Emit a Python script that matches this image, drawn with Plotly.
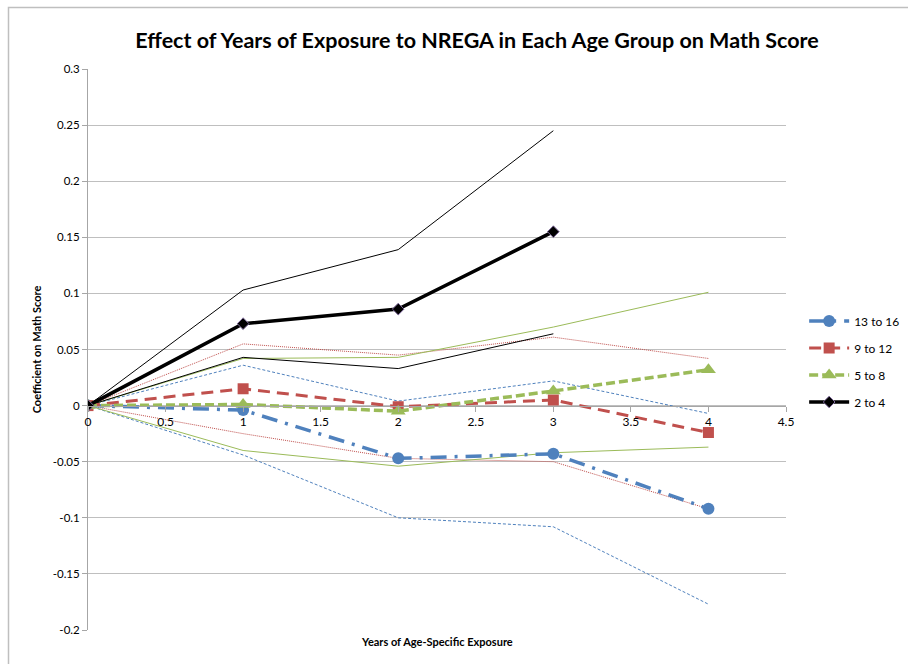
import plotly.graph_objects as go

years = [0, 1, 2, 3, 4]
years_24 = [0, 1, 2, 3]

g13_16 = [0, -0.004, -0.047, -0.043, -0.092]
g13_16_hi = [0, 0.036, 0.004, 0.022, -0.007]
g13_16_lo = [0, -0.044, -0.100, -0.108, -0.177]

g9_12 = [0, 0.015, -0.001, 0.005, -0.024]
g9_12_hi = [0, 0.055, 0.045, 0.061, 0.042]
g9_12_lo = [0, -0.025, -0.047, -0.050, -0.092]

g5_8 = [0, 0.001, -0.005, 0.013, 0.032]
g5_8_hi = [0, 0.042, 0.043, 0.070, 0.101]
g5_8_lo = [0, -0.040, -0.054, -0.042, -0.037]

g2_4 = [0, 0.073, 0.086, 0.155]
g2_4_hi = [0, 0.103, 0.139, 0.245]
g2_4_lo = [0, 0.043, 0.033, 0.064]

y_ticks = [0.3, 0.25, 0.2, 0.15, 0.1, 0.05, 0, -0.05, -0.1, -0.15, -0.2]
y_tick_text = ["0.3", "0.25", "0.2", "0.15", "0.1", "0.05", "0", "-0.05", "-0.1", "-0.15", "-0.2"]
x_ticks = [0, 0.5, 1, 1.5, 2, 2.5, 3, 3.5, 4, 4.5]
x_tick_text = ["0", "0.5", "1", "1.5", "2", "2.5", "3", "3.5", "4", "4.5"]

BLUE = "#4F81BD"
RED = "#C0504D"
GREEN = "#9BBB59"
BLACK = "#000000"

fig = go.Figure()

def ci(x, y, color, dash):
    fig.add_trace(go.Scatter(x=x, y=y, mode="lines", showlegend=False, hoverinfo="skip",
                             line=dict(color=color, width=1, dash=dash)))

ci(years, g13_16_hi, BLUE, "3px,2px")
ci(years, g13_16_lo, BLUE, "3px,2px")
ci(years, g9_12_hi, RED, "1px,1px")
ci(years, g9_12_lo, RED, "1px,1px")
ci(years, g5_8_hi, GREEN, "solid")
ci(years, g5_8_lo, GREEN, "solid")
ci(years_24, g2_4_hi, BLACK, "solid")
ci(years_24, g2_4_lo, BLACK, "solid")

fig.add_trace(go.Scatter(x=years, y=g13_16, name="13 to 16", mode="lines+markers", legendgroup="a",
                         line=dict(color=BLUE, width=3.5, dash="16px,8px,3px,8px"),
                         marker=dict(symbol="circle", size=12, color=BLUE)))
fig.add_trace(go.Scatter(x=years, y=g9_12, name="9 to 12", mode="lines+markers", legendgroup="b",
                         line=dict(color=RED, width=3, dash="12px,7px"),
                         marker=dict(symbol="square", size=11, color=RED)))
fig.add_trace(go.Scatter(x=years, y=g5_8, name="5 to 8", mode="lines+markers", legendgroup="c",
                         line=dict(color=GREEN, width=3.5, dash="9px,4px"),
                         marker=dict(symbol="triangle-up", size=13, color=GREEN)))
fig.add_trace(go.Scatter(x=years_24, y=g2_4, name="2 to 4", mode="lines+markers", legendgroup="d",
                         line=dict(color=BLACK, width=3.5),
                         marker=dict(symbol="diamond", size=9, color=BLACK,
                                     line=dict(color="#7F6A9C", width=1))))

fig.update_layout(
    width=908, height=664,
    margin=dict(l=88, r=122, t=69, b=34, autoexpand=False),
    paper_bgcolor="white", plot_bgcolor="white",
    font=dict(family="Lato, Open Sans, sans-serif", size=11, color="#000000"),
    title=dict(text="<b>Effect of Years of Exposure to NREGA in Each Age Group on Math Score</b>",
               x=477 / 908, xref="container", xanchor="center", y=1 - 40 / 664, yref="container",
               yanchor="middle",
               font=dict(family="Lato, Open Sans, sans-serif", size=21.5, color="#000000")),
    showlegend=True,
    legend=dict(x=1.026, y=1 - (361.5 - 69) / 561, xanchor="left", yanchor="middle",
                font=dict(size=12, family="Lato, Open Sans, sans-serif"),
                bgcolor="rgba(0,0,0,0)", traceorder="grouped", tracegroupgap=8, itemwidth=40),
    xaxis=dict(range=[0, 4.5], tickvals=x_ticks, ticktext=x_tick_text, automargin=False,
               showgrid=False, zeroline=False, showline=True, linecolor="#A6A6A6",
               linewidth=1, ticks="outside", ticklen=5, tickcolor="#A6A6A6",
               anchor="free", position=0.4, tickfont=dict(size=12)),
    yaxis=dict(range=[-0.2, 0.3], tickvals=y_ticks, ticktext=y_tick_text, automargin=False,
               showgrid=True, gridcolor="#BFBFBF", gridwidth=1, zeroline=False,
               showline=True, linecolor="#A6A6A6", linewidth=1,
               ticks="outside", ticklen=5, tickcolor="#A6A6A6", tickfont=dict(size=11.5),
               title=dict(text="<b>Coefficient on Math Score</b>", font=dict(size=11), standoff=8)),
)

fig.add_annotation(text="<b>Years of Age-Specific Exposure</b>", xref="paper", yref="paper",
                   x=0.5, y=-0.006, xanchor="center", yanchor="top", showarrow=False,
                   font=dict(size=11))

fig.add_shape(type="rect", xref="paper", yref="paper",
              x0=(8.5 - 88) / 698, x1=1.3, y0=-0.2, y1=1 + (69 - 7.5) / 561,
              line=dict(color="#BFBFBF", width=1.5))

fig.write_html("out.html", config={"displayModeBar": False},
               post_script="document.body.style.margin='0';")
